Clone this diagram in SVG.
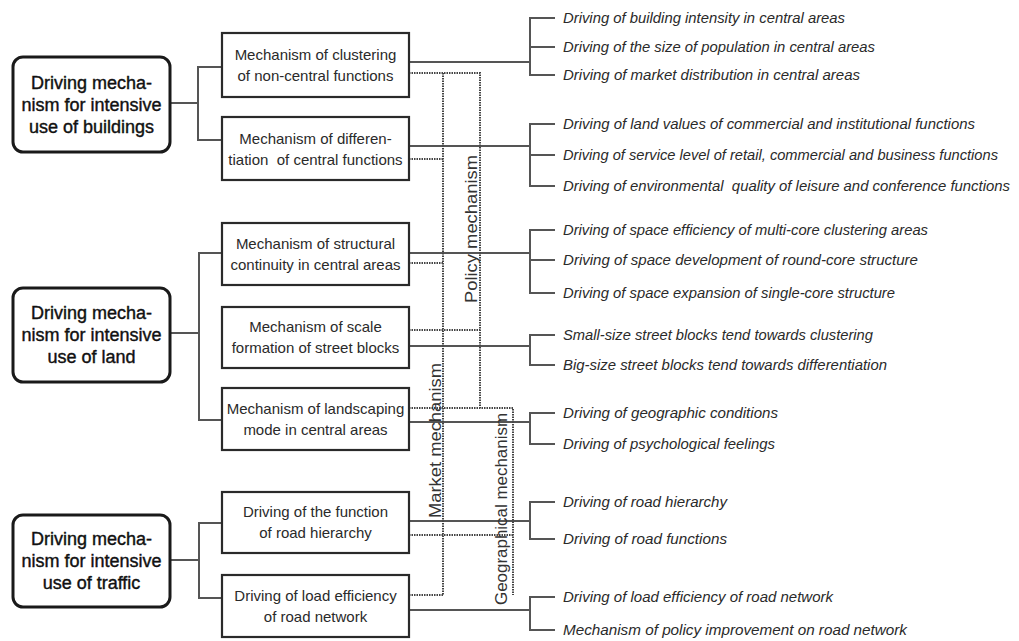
<svg xmlns="http://www.w3.org/2000/svg" width="1019" height="641" viewBox="0 0 1019 641">
<style>
.main{fill:#fff;stroke:#1a1a1a;stroke-width:3}
.mid{fill:#fff;stroke:#2a2a2a;stroke-width:2.2}
.mt{font-family:"Liberation Sans",Arial,sans-serif;font-size:18px;fill:#111;stroke:#111;stroke-width:0.4;text-anchor:middle}
.bt{font-family:"Liberation Sans",Arial,sans-serif;font-size:15px;fill:#2a2a2a;text-anchor:middle}
.rt{font-family:"Liberation Sans",Arial,sans-serif;font-size:14.5px;font-style:italic;fill:#2a2a2a}
.vt{font-family:"Liberation Sans",Arial,sans-serif;font-size:17px;fill:#333}
.solid{fill:none;stroke:#555;stroke-width:2}
.dot{fill:none;stroke:#444;stroke-width:2;stroke-dasharray:1.5 1}
</style>
<rect width="1019" height="641" fill="#fff"/>
<g id="connectors">
<path class="solid" d="M170 103H198M222 67H198V140H222"/>
<path class="solid" d="M170 333H199M222 253H199V420H222"/>
<path class="solid" d="M170 560H199M222 523H199V598H222"/>
<path class="solid" d="M409 62H530M409 146H530M409 253H530M409 346H530M409 422H530M409 521H530M409 610H530"/>
<path class="solid" d="M555 18H530V75H555M530 47H555"/>
<path class="solid" d="M555 124H530V186H555M530 155H555"/>
<path class="solid" d="M555 230H530V293H555M530 260H555"/>
<path class="solid" d="M555 335H530V365H555"/>
<path class="solid" d="M555 413H530V444H555"/>
<path class="solid" d="M555 502H530V539H555"/>
<path class="solid" d="M555 597H530V630H555"/>
<path class="dot" d="M409 73H480V408M443 73V595M409 159H443M409 263H443M409 330H480M409 408H513V595M409 535H513M409 595H443"/>
</g>
<g id="labels-mechanism">
<text class="vt" transform="translate(477,303) rotate(-90)" textLength="148" lengthAdjust="spacingAndGlyphs">Policy mechanism</text>
<text class="vt" transform="translate(441,518) rotate(-90)" textLength="155" lengthAdjust="spacingAndGlyphs">Market mechanism</text>
<text class="vt" transform="translate(507,605) rotate(-90)" textLength="192" lengthAdjust="spacingAndGlyphs">Geographical mechanism</text>
</g>
<g id="node-buildings">
<rect class="main" x="13" y="57" width="157" height="95" rx="10"/>
<text class="mt" x="91.5" y="89">Driving mecha-</text>
<text class="mt" x="91.5" y="111">nism for intensive</text>
<text class="mt" x="91.5" y="133">use of buildings</text>
</g>
<g id="node-land">
<rect class="main" x="13" y="288" width="157" height="94" rx="10"/>
<text class="mt" x="91.5" y="319">Driving mecha-</text>
<text class="mt" x="91.5" y="341">nism for intensive</text>
<text class="mt" x="91.5" y="363">use of land</text>
</g>
<g id="node-traffic">
<rect class="main" x="13" y="515" width="157" height="92" rx="10"/>
<text class="mt" x="91.5" y="545">Driving mecha-</text>
<text class="mt" x="91.5" y="567">nism for intensive</text>
<text class="mt" x="91.5" y="589">use of traffic</text>
</g>
<g id="node-clustering">
<rect class="mid" x="222" y="33" width="187" height="64"/>
<text class="bt" x="315.5" y="60">Mechanism of clustering</text>
<text class="bt" x="315.5" y="81">of non-central functions</text>
</g>
<g id="node-differentiation">
<rect class="mid" x="222" y="117" width="187" height="63"/>
<text class="bt" x="315.5" y="143.5">Mechanism of differen-</text>
<text class="bt" x="315.5" y="164.5" xml:space="preserve">tiation  of central functions</text>
</g>
<g id="node-structural">
<rect class="mid" x="222" y="223" width="187" height="62"/>
<text class="bt" x="315.5" y="249">Mechanism of structural</text>
<text class="bt" x="315.5" y="270">continuity in central areas</text>
</g>
<g id="node-scale">
<rect class="mid" x="222" y="307" width="187" height="61"/>
<text class="bt" x="315.5" y="332">Mechanism of scale</text>
<text class="bt" x="315.5" y="353">formation of street blocks</text>
</g>
<g id="node-landscaping">
<rect class="mid" x="222" y="388" width="187" height="62"/>
<text class="bt" x="315.5" y="414">Mechanism of landscaping</text>
<text class="bt" x="315.5" y="435">mode in central areas</text>
</g>
<g id="node-road-hierarchy">
<rect class="mid" x="222" y="492" width="187" height="61"/>
<text class="bt" x="315.5" y="517">Driving of the function</text>
<text class="bt" x="315.5" y="538">of road hierarchy</text>
</g>
<g id="node-load-efficiency">
<rect class="mid" x="222" y="575" width="187" height="62"/>
<text class="bt" x="315.5" y="601">Driving of load efficiency</text>
<text class="bt" x="315.5" y="622">of road network</text>
</g>
<g id="leaves">
<text class="rt" x="563" y="23" textLength="282" lengthAdjust="spacingAndGlyphs">Driving of building intensity in central areas</text>
<text class="rt" x="563" y="52" textLength="312" lengthAdjust="spacingAndGlyphs">Driving of the size of population in central areas</text>
<text class="rt" x="563" y="80" textLength="297" lengthAdjust="spacingAndGlyphs">Driving of market distribution in central areas</text>
<text class="rt" x="563" y="129" textLength="412" lengthAdjust="spacingAndGlyphs">Driving of land values of commercial and institutional functions</text>
<text class="rt" x="563" y="160" textLength="435" lengthAdjust="spacingAndGlyphs">Driving of service level of retail, commercial and business functions</text>
<text class="rt" x="563" y="191" textLength="447" lengthAdjust="spacingAndGlyphs" xml:space="preserve">Driving of environmental  quality of leisure and conference functions</text>
<text class="rt" x="563" y="235" textLength="365" lengthAdjust="spacingAndGlyphs">Driving of space efficiency of multi-core clustering areas</text>
<text class="rt" x="563" y="265" textLength="355" lengthAdjust="spacingAndGlyphs">Driving of space development of round-core structure</text>
<text class="rt" x="563" y="298" textLength="332" lengthAdjust="spacingAndGlyphs">Driving of space expansion of single-core structure</text>
<text class="rt" x="563" y="340" textLength="310" lengthAdjust="spacingAndGlyphs">Small-size street blocks tend towards clustering</text>
<text class="rt" x="563" y="370" textLength="324" lengthAdjust="spacingAndGlyphs">Big-size street blocks tend towards differentiation</text>
<text class="rt" x="563" y="418" textLength="215" lengthAdjust="spacingAndGlyphs">Driving of geographic conditions</text>
<text class="rt" x="563" y="449" textLength="212" lengthAdjust="spacingAndGlyphs">Driving of psychological feelings</text>
<text class="rt" x="563" y="507" textLength="164" lengthAdjust="spacingAndGlyphs">Driving of road hierarchy</text>
<text class="rt" x="563" y="544" textLength="164" lengthAdjust="spacingAndGlyphs">Driving of road functions</text>
<text class="rt" x="563" y="602" textLength="270" lengthAdjust="spacingAndGlyphs">Driving of load efficiency of road network</text>
<text class="rt" x="563" y="635" textLength="344" lengthAdjust="spacingAndGlyphs">Mechanism of policy improvement on road network</text>
</g>
</svg>
